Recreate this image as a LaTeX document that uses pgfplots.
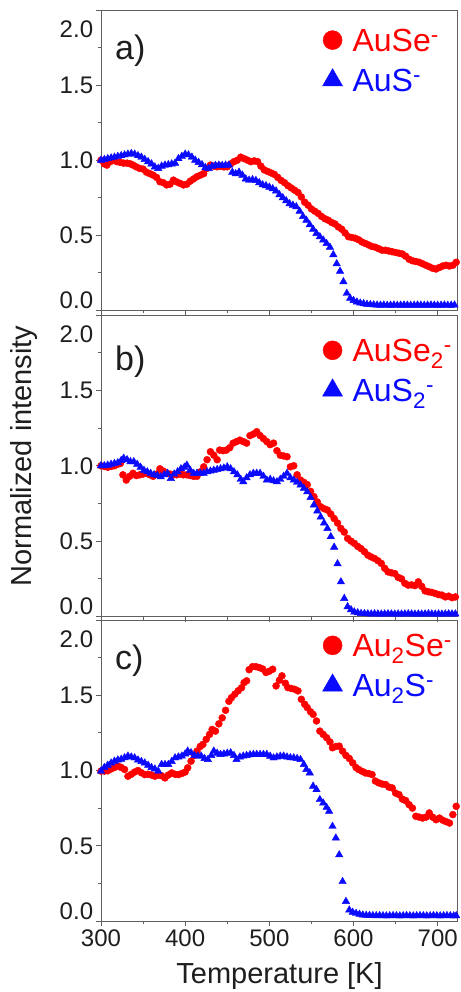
\documentclass[border=0pt]{standalone}
\usepackage{pgfplots}
\pgfplotsset{compat=1.18}
\usepackage{fontspec}
\setmainfont{Liberation Sans}
\definecolor{axgray}{RGB}{95,95,95}
\definecolor{txt}{RGB}{30,30,30}
\definecolor{myred}{RGB}{255,0,0}
\definecolor{myblue}{RGB}{10,10,255}

\pgfplotstableread{
T v
300 1.00
304 0.975
307 0.967
311 0.99
315 1.00
319 0.99
323 0.985
327 0.98
331 0.98
335 0.975
338 0.967
342 0.955
346 0.945
350 0.94
354 0.92
358 0.91
362 0.90
366 0.885
370 0.856
374 0.85
378 0.835
382 0.84
386 0.867
390 0.855
394 0.845
398 0.835
402 0.84
406 0.86
410 0.875
414 0.89
418 0.90
422 0.91
426 0.945
430 0.967
434 0.96
438 0.956
442 0.96
446 0.955
450 0.956
454 0.975
458 0.99
462 1.00
466 1.02
470 1.01
474 1.00
478 0.99
482 0.995
486 0.99
490 0.96
494 0.935
498 0.925
502 0.915
506 0.905
510 0.885
514 0.865
518 0.85
522 0.83
526 0.815
530 0.80
534 0.785
538 0.755
542 0.72
546 0.70
550 0.675
554 0.66
558 0.645
562 0.625
566 0.61
570 0.60
574 0.585
578 0.575
582 0.555
586 0.54
590 0.515
594 0.49
598 0.485
602 0.48
606 0.47
610 0.455
614 0.445
618 0.435
622 0.425
626 0.42
630 0.41
634 0.40
638 0.40
642 0.395
646 0.39
650 0.385
654 0.38
658 0.375
662 0.36
666 0.34
670 0.33
674 0.325
678 0.32
682 0.31
686 0.30
690 0.29
694 0.28
698 0.275
702 0.285
706 0.295
710 0.30
714 0.295
718 0.30
722 0.32
}\dataAred

\pgfplotstableread{
T v
300 1.00
304 1.005
308 1.01
312 1.015
316 1.02
320 1.025
324 1.03
328 1.035
332 1.04
336 1.044
340 1.04
344 1.03
348 1.02
352 1.005
356 0.99
360 0.975
364 0.955
368 0.945
372 0.96
376 0.967
380 0.97
384 0.975
388 0.98
392 1.01
396 1.025
400 1.04
404 1.035
408 1.02
412 1.00
416 0.985
420 0.97
424 0.95
428 0.945
432 0.96
436 0.965
440 0.967
444 0.965
448 0.967
452 0.967
456 0.92
460 0.91
464 0.92
468 0.90
472 0.875
476 0.867
480 0.87
484 0.865
488 0.85
492 0.836
496 0.83
500 0.82
504 0.81
508 0.795
512 0.77
516 0.75
520 0.73
524 0.71
528 0.70
532 0.69
536 0.66
540 0.625
544 0.60
548 0.57
552 0.54
556 0.512
560 0.49
564 0.468
568 0.445
572 0.42
576 0.37
580 0.31
584 0.26
588 0.19
592 0.113
596 0.08
600 0.065
604 0.055
608 0.048
612 0.044
616 0.04
620 0.038
624 0.036
628 0.035
632 0.034
636 0.035
640 0.033
644 0.034
648 0.035
652 0.033
656 0.034
660 0.035
664 0.034
668 0.033
672 0.034
676 0.035
680 0.034
684 0.033
688 0.034
692 0.035
696 0.034
700 0.033
704 0.034
708 0.035
712 0.033
716 0.034
720 0.035
}\dataAblue

\pgfplotstableread{
T v
300 1.00
304 0.995
308 0.99
312 0.995
316 1.00
320 1.01
323 1.015
326 0.94
330 0.905
334 0.93
338 0.95
342 0.935
346 0.94
350 0.945
354 0.95
358 0.94
362 0.93
366 0.945
370 0.98
374 0.965
378 0.95
382 0.945
386 0.94
390 0.94
394 0.945
398 0.94
402 0.94
406 0.935
410 0.93
414 0.93
418 0.96
422 0.993
426 1.04
430 1.093
434 1.07
438 1.04
441 1.104
445 1.10
449 1.104
453 1.12
457 1.15
461 1.16
465 1.17
469 1.16
473 1.15
477 1.20
481 1.21
485 1.226
489 1.20
493 1.18
497 1.16
501 1.14
505 1.15
509 1.10
513 1.07
517 1.065
521 1.06
525 0.993
529 1.00
533 0.94
537 0.905
541 0.89
545 0.875
549 0.83
553 0.795
557 0.76
561 0.728
565 0.715
569 0.706
573 0.68
577 0.65
581 0.62
585 0.584
589 0.56
593 0.518
597 0.50
601 0.485
605 0.465
609 0.45
613 0.43
617 0.407
621 0.395
625 0.385
629 0.37
633 0.352
637 0.32
641 0.296
645 0.29
649 0.285
653 0.26
657 0.25
661 0.22
665 0.208
669 0.21
673 0.205
677 0.23
681 0.20
685 0.17
689 0.164
693 0.16
697 0.153
701 0.145
705 0.142
709 0.13
713 0.135
717 0.125
721 0.13
}\dataBred

\pgfplotstableread{
T v
300 1.00
304 1.00
308 1.004
312 1.01
316 1.015
320 1.02
324 1.035
327 1.05
331 1.04
335 1.027
339 1.027
343 1.01
347 0.99
351 0.97
355 0.96
359 0.95
363 0.94
367 0.935
371 0.927
375 0.94
379 0.95
383 0.916
387 0.945
391 0.96
395 0.98
399 0.99
402 1.004
406 0.97
410 0.95
414 0.95
418 0.95
422 0.95
426 0.96
430 0.965
434 0.97
438 0.975
442 0.98
446 0.985
450 0.993
454 0.98
458 0.96
462 0.94
466 0.91
469 0.894
473 0.92
477 0.94
481 0.95
485 0.95
489 0.95
493 0.93
497 0.905
501 0.91
505 0.90
509 0.894
513 0.91
517 0.93
521 0.95
525 0.92
529 0.905
533 0.89
537 0.872
541 0.85
545 0.827
549 0.79
553 0.74
557 0.70
561 0.66
565 0.62
569 0.584
573 0.53
577 0.46
581 0.35
585 0.23
589 0.12
593 0.065
597 0.045
601 0.03
605 0.025
609 0.02
613 0.019
617 0.018
621 0.017
625 0.018
629 0.017
633 0.016
637 0.017
641 0.018
645 0.017
649 0.016
653 0.017
657 0.016
661 0.017
665 0.018
669 0.017
673 0.016
677 0.017
681 0.016
685 0.017
689 0.018
693 0.017
697 0.016
701 0.017
705 0.016
709 0.017
713 0.018
717 0.017
721 0.017
}\dataBblue

\pgfplotstableread{
T v
300 0.996
304 0.996
308 0.998
312 1.01
316 1.02
320 1.03
324 1.02
328 1.007
332 0.962
336 0.975
340 0.99
344 1.00
348 0.985
352 0.973
356 0.975
360 0.97
364 0.962
368 0.97
372 0.965
376 0.951
380 0.97
384 0.984
388 0.975
392 0.973
396 0.98
400 0.99
403 1.018
407 1.062
411 1.10
414 1.129
418 1.16
421 1.173
425 1.207
429 1.24
432 1.273
436 1.262
440 1.31
444 1.35
448 1.40
452 1.46
455 1.484
459 1.507
463 1.53
467 1.55
470 1.584
473 1.596
476 1.67
480 1.69
484 1.69
488 1.684
492 1.675
496 1.651
500 1.66
504 1.673
508 1.562
512 1.60
515 1.629
519 1.58
522 1.551
526 1.545
530 1.54
534 1.529
538 1.473
542 1.44
545 1.418
549 1.39
552 1.373
556 1.329
560 1.262
564 1.24
568 1.218
572 1.19
575 1.151
579 1.16
583 1.162
587 1.129
591 1.10
595 1.08
599 1.051
603 1.02
606 1.007
610 0.995
614 0.984
618 0.98
622 0.973
626 0.93
630 0.918
634 0.91
638 0.907
642 0.89
646 0.884
650 0.85
654 0.84
658 0.81
662 0.80
666 0.773
670 0.75
674 0.696
678 0.69
682 0.684
686 0.69
690 0.718
694 0.69
698 0.673
702 0.684
706 0.67
710 0.66
714 0.651
718 0.707
722 0.762
}\dataCred

\pgfplotstableread{
T v
300 0.996
304 1.02
308 1.035
312 1.05
316 1.062
320 1.07
324 1.075
328 1.085
332 1.096
336 1.09
340 1.084
344 1.07
348 1.06
352 1.05
356 1.035
360 1.02
364 1.01
368 0.996
372 1.04
376 1.04
380 1.04
384 1.06
388 1.084
392 1.09
396 1.096
400 1.11
403 1.129
407 1.118
411 1.10
415 1.096
419 1.096
423 1.08
427 1.073
431 1.10
434 1.129
438 1.115
442 1.107
446 1.11
450 1.115
454 1.118
458 1.10
461 1.073
465 1.09
469 1.096
473 1.10
477 1.105
481 1.107
485 1.107
489 1.107
493 1.107
497 1.107
501 1.095
505 1.084
509 1.09
513 1.095
517 1.096
521 1.09
525 1.085
529 1.084
533 1.08
537 1.073
541 1.04
544 1.007
548 0.984
552 0.896
556 0.873
560 0.807
564 0.784
568 0.755
571 0.729
575 0.629
579 0.551
583 0.44
587 0.262
591 0.13
595 0.073
599 0.058
603 0.051
607 0.045
611 0.04
615 0.038
619 0.037
623 0.036
627 0.035
631 0.036
635 0.035
639 0.034
643 0.035
647 0.036
651 0.035
655 0.034
659 0.035
663 0.036
667 0.035
671 0.034
675 0.035
679 0.036
683 0.035
687 0.034
691 0.035
695 0.036
699 0.035
703 0.034
707 0.035
711 0.036
715 0.035
719 0.034
722 0.035
}\dataCblue

\pgfplotsset{
  panel/.style={
    scale only axis, width=356.3bp,
    xmin=300, xmax=723.3, ymin=0, ymax=2,
    axis line style={axgray, line width=0.9bp},
    every tick/.style={axgray, line width=0.8bp},
    major tick length=5bp, minor tick length=3bp,
    tick align=outside,
    xtick={300,400,...,700}, minor x tick num=1,
    ytick={0,0.5,1,1.5,2}, yticklabels={,0.5,1.0,1.5,},
    minor y tick num=1,
    extra y ticks={0.066,1.874}, extra y tick labels={0.0,2.0},
    extra y tick style={tick style={draw=none}},
    xtick pos=bottom, ytick pos=left,
    ticklabel style={font=\fontsize{24bp}{28bp}\selectfont, text=txt},
    /pgf/number format/assume math mode=true,
    yticklabel style={inner sep=0pt, xshift=-2.7bp},
    xticklabel style={inner sep=0pt, yshift=-3.4bp},
    legend cell align=left,
    legend image code/.code={\draw[##1] plot coordinates {(0bp,0bp)}; \path[draw=none,fill=none] (-9.5bp,-8bp) rectangle (20bp,8bp);},
  },
  redser/.style={only marks, mark=*, mark size=3.5bp, color=myred, legend image post style={mark size=9.5bp}},
  blueser/.style={only marks, mark=triangle*, mark size=4.3bp, color=myblue, legend image post style={mark size=11.5bp}},
  leg/.style={legend style={at={(axis description cs:0.622,#1)}, anchor=north west, draw=none, fill=none,
    inner sep=0pt, outer sep=0pt, row sep=17bp, font=\fontsize{32bp}{36bp}\selectfont,
    nodes={inner sep=0pt, text height=23bp, text depth=0pt}, cells={anchor=west}}},
}

\begin{document}
\begin{tikzpicture}
\useasboundingbox (-101bp,10bp) rectangle (360bp,-982bp);

\begin{axis}[panel, height=300.3bp, at={(0bp,0bp)}, anchor=north west, xticklabels={}, leg=0.938]
\addplot[redser] table[x=T,y=v] {\dataAred};
\addlegendentry{\textcolor{myred}{AuSe\textsuperscript{-}}}
\addplot[blueser] table[x=T,y=v] {\dataAblue};
\addlegendentry{\textcolor{myblue}{AuS\textsuperscript{-}}}
\node[anchor=base west, font=\fontsize{34bp}{40bp}\selectfont, text=txt, inner sep=0pt] at (rel axis cs:0.039,0.836) {a)};
\end{axis}

\begin{axis}[panel, height=301.5bp, at={(0bp,-305bp)}, anchor=north west, xticklabels={}, leg=0.921]
\addplot[redser] table[x=T,y=v] {\dataBred};
\addlegendentry{\textcolor{myred}{AuSe\textsubscript{2}\textsuperscript{-}}}
\addplot[blueser] table[x=T,y=v] {\dataBblue};
\addlegendentry{\textcolor{myblue}{AuS\textsubscript{2}\textsuperscript{-}}}
\node[anchor=base west, font=\fontsize{34bp}{40bp}\selectfont, text=txt, inner sep=0pt] at (rel axis cs:0.039,0.817) {b)};
\end{axis}

\begin{axis}[panel, height=301bp, at={(0bp,-610bp)}, anchor=north west, leg=0.954,
  xlabel={Temperature [K]},
  xlabel style={at={(axis description cs:0.501,0)}, anchor=center, yshift=-54.7bp, font=\fontsize{29bp}{34bp}\selectfont, text=txt}]
\addplot[redser] table[x=T,y=v] {\dataCred};
\addlegendentry{\textcolor{myred}{Au\textsubscript{2}Se\textsuperscript{-}}}
\addplot[blueser] table[x=T,y=v] {\dataCblue};
\addlegendentry{\textcolor{myblue}{Au\textsubscript{2}S\textsuperscript{-}}}
\node[anchor=base west, font=\fontsize{34bp}{40bp}\selectfont, text=txt, inner sep=0pt] at (rel axis cs:0.039,0.834) {c)};
\end{axis}

\node[rotate=90, font=\fontsize{29bp}{34bp}\selectfont, text=txt] at (-77bp,-446bp) {Normalized intensity};
\end{tikzpicture}
\end{document}
